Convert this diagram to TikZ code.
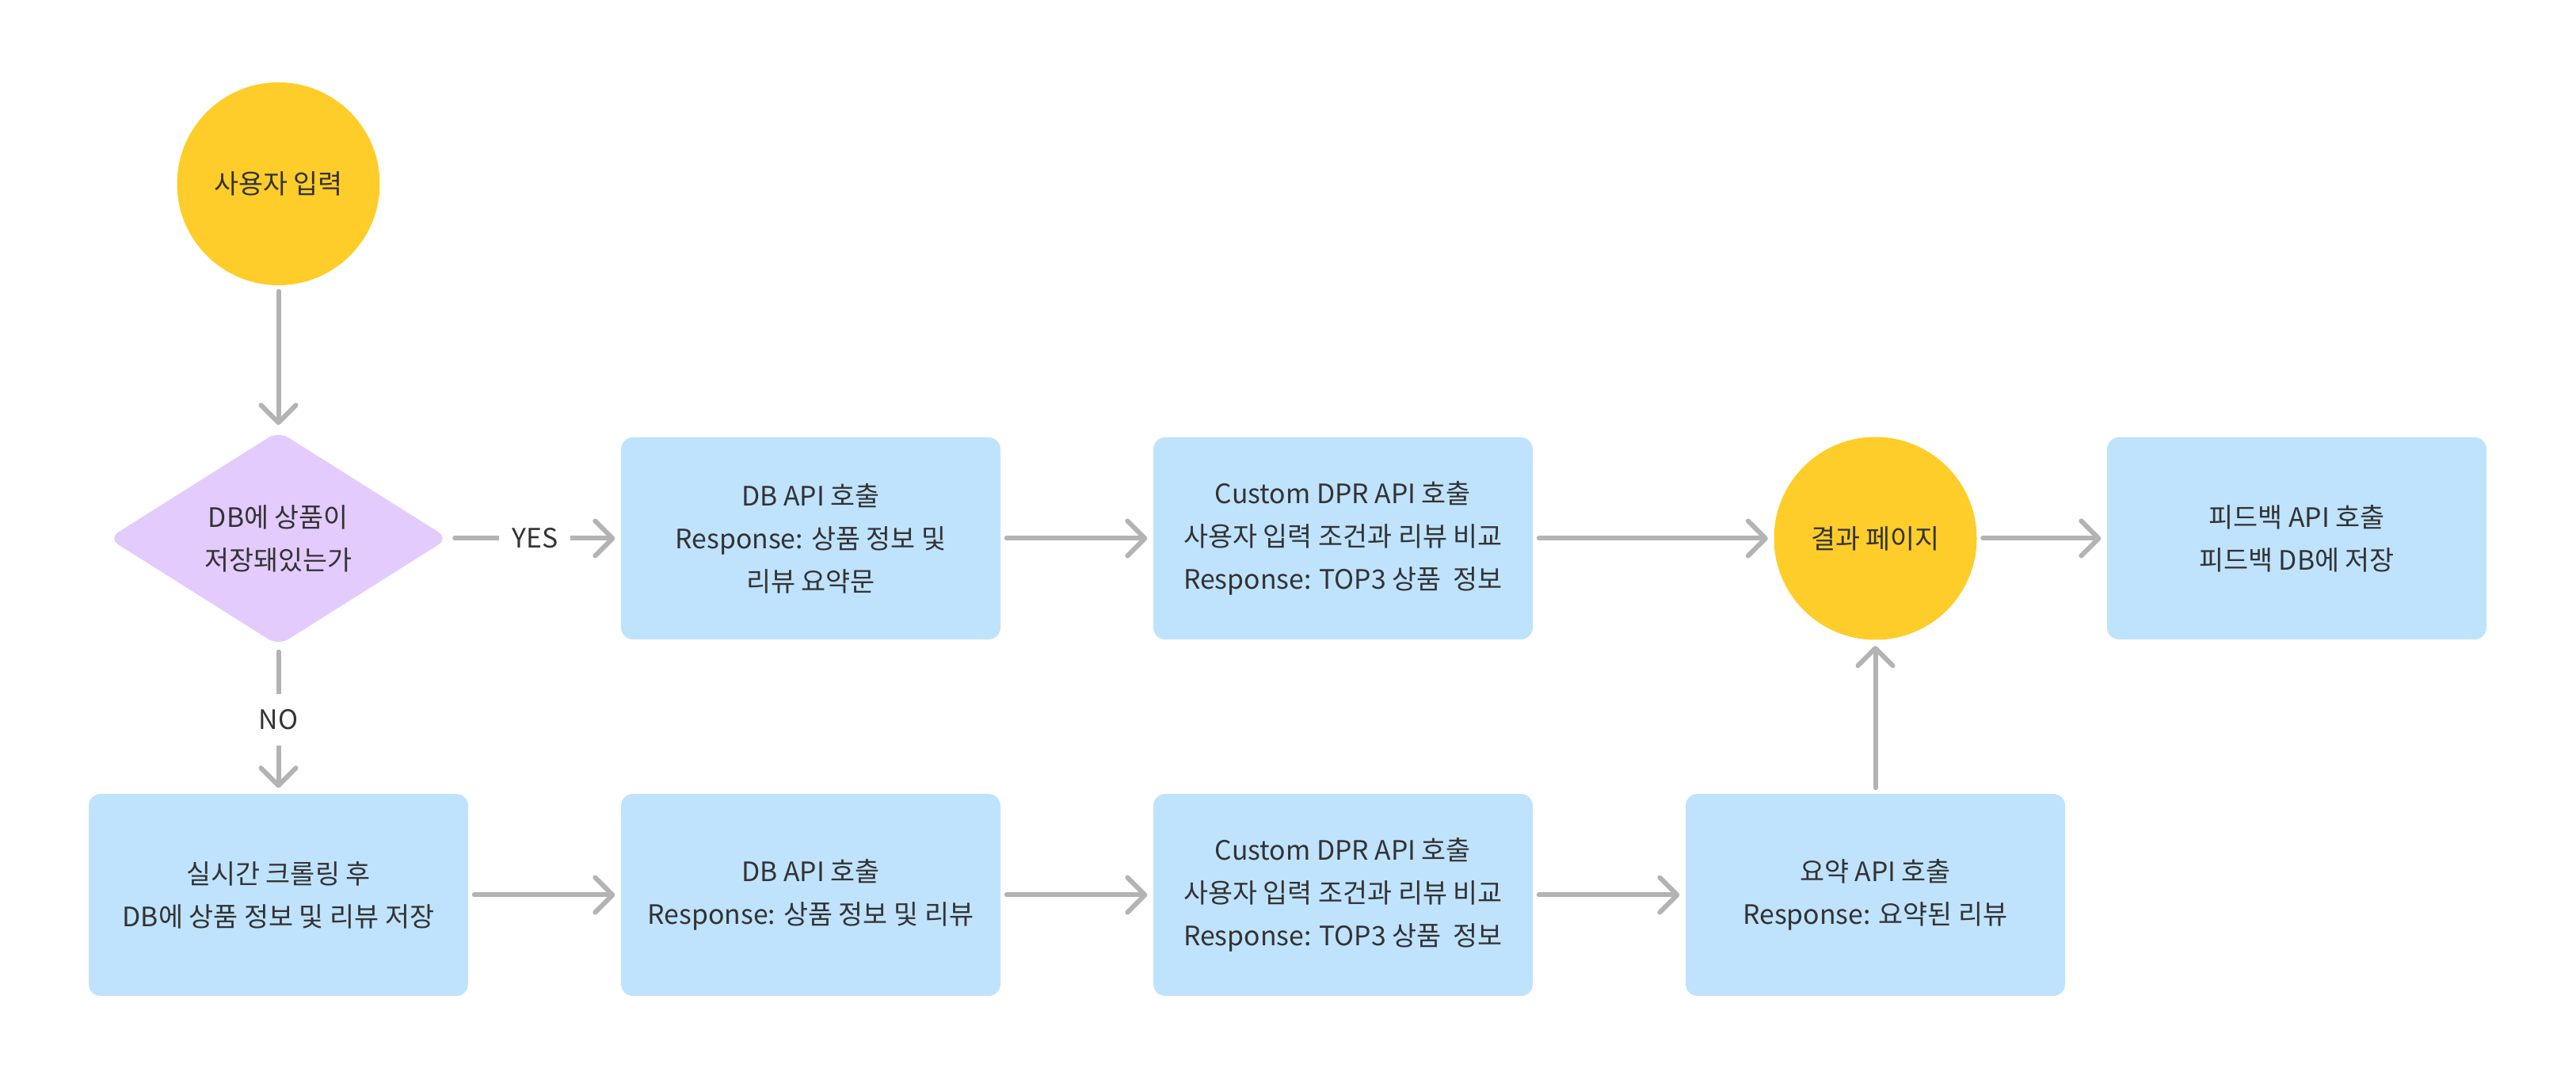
\documentclass[tikz,border=0pt]{standalone}
\usepackage{fontspec}
\newfontfamily\krfont{Noto Sans CJK KR}
\usepackage{xcolor}
\usetikzlibrary{arrows.meta,shapes.geometric,positioning}
\definecolor{gelb}{HTML}{FFCD29}
\definecolor{lila}{HTML}{E3CCFD}
\definecolor{hellblau}{HTML}{BFE3FD}
\definecolor{pfeilgrau}{HTML}{B3B3B3}
\definecolor{schrift}{HTML}{333333}

\begin{document}
\begin{tikzpicture}[
  kasten/.style={fill=hellblau,rounded corners=0.15cm,minimum width=4.79cm,minimum height=2.55cm,align=center,text=schrift,font=\krfont\fontsize{9.6pt}{15.4pt}\selectfont},
  kreis/.style={circle,fill=gelb,minimum size=2.56cm,inner sep=0pt,align=center,text=schrift,font=\krfont\fontsize{9.6pt}{15.4pt}\selectfont},
  raute/.style={diamond,fill=lila,minimum width=4.3cm,minimum height=2.64cm,inner sep=0pt,rounded corners=0.15cm,align=center,text=schrift,font=\krfont\fontsize{9.6pt}{15.4pt}\selectfont},
  pfeil/.style={draw=pfeilgrau,line width=0.06cm,line cap=round,-{Straight Barb[length=0.22cm,width=0.44cm,round]},shorten >=0.07cm,shorten <=0.07cm},
  marke/.style={fill=white,inner xsep=0.16cm,inner ysep=0.2cm,text=schrift,font=\krfont\fontsize{9.6pt}{15.4pt}\selectfont}
]
%Rahmen wie im Original (1px = 0.01cm)
\useasboundingbox (0,0) rectangle (32.52,-13.58);
  \pgfmathsetmacro{\xA}{3.515}
  \pgfmathsetmacro{\dx}{6.72}
  \pgfmathsetmacro{\yOben}{-6.795}
  \pgfmathsetmacro{\yUnten}{-11.295}
%obere Reihe
\node[kreis] (eingabe) at (\xA,-2.32) {사용자 입력};
\node[raute] (frage) at (\xA,\yOben) {DB에 상품이\\저장돼있는가};
\node[kasten] (dbOben) at (\xA+\dx,\yOben) {DB API 호출\\Response: 상품 정보 및\\리뷰 요약문};
\node[kasten] (dprOben) at (\xA+2*\dx,\yOben) {Custom DPR API 호출\\사용자 입력 조건과 리뷰 비교\\Response: TOP3 상품~ 정보};
\node[kreis] (ergebnis) at (\xA+3*\dx,\yOben) {결과 페이지};
\node[kasten] (feedback) at (28.995,\yOben) {피드백 API 호출\\피드백 DB에 저장};
%untere Reihe
\node[kasten] (crawling) at (\xA,\yUnten) {실시간 크롤링 후\\DB에 상품 정보 및 리뷰 저장};
\node[kasten] (dbUnten) at (\xA+\dx,\yUnten) {DB API 호출\\Response: 상품 정보 및 리뷰};
\node[kasten] (dprUnten) at (\xA+2*\dx,\yUnten) {Custom DPR API 호출\\사용자 입력 조건과 리뷰 비교\\Response: TOP3 상품~ 정보};
\node[kasten] (summary) at (\xA+3*\dx,\yUnten) {요약 API 호출\\Response: 요약된 리뷰};
%Pfeile
\draw[pfeil] (eingabe) -- (frage);
\draw[pfeil] (frage) -- node[marke] {YES} (dbOben);
\draw[pfeil] (frage) -- node[marke] {NO} (crawling);
\draw[pfeil] (dbOben) -- (dprOben);
\draw[pfeil] (dprOben) -- (ergebnis);
\draw[pfeil] (ergebnis) -- (feedback);
\draw[pfeil] (crawling) -- (dbUnten);
\draw[pfeil] (dbUnten) -- (dprUnten);
\draw[pfeil] (dprUnten) -- (summary);
\draw[pfeil] (summary) -- (ergebnis);
\end{tikzpicture}
\end{document}
